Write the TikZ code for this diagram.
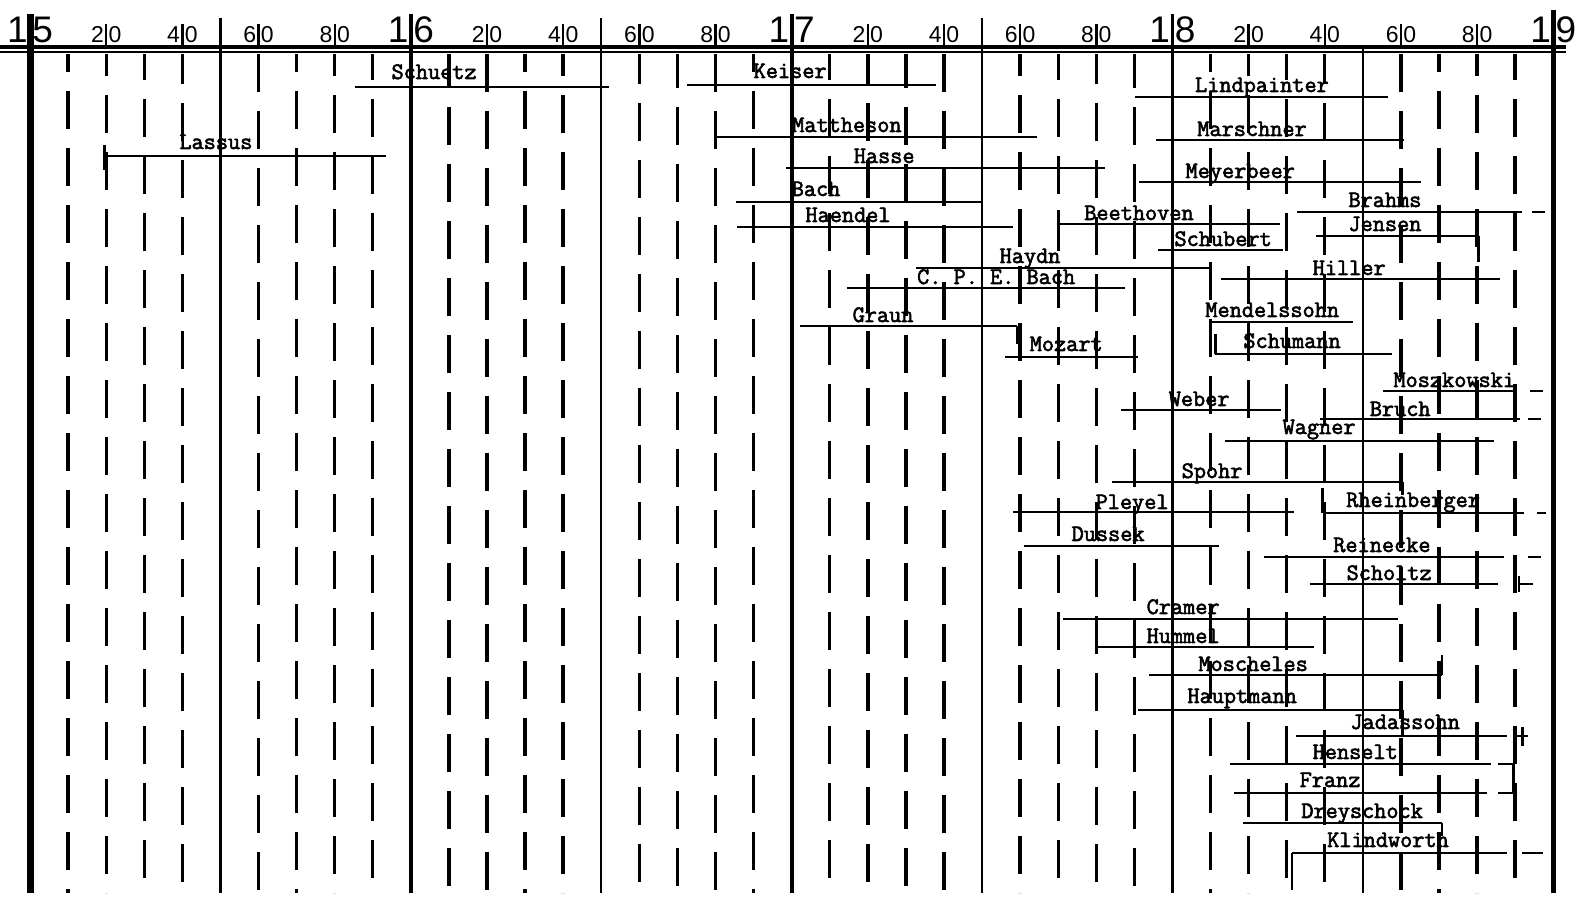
\documentclass[tikz,border=0pt]{standalone}
\usepackage{fontspec}
\newfontfamily\typefont{Latin Modern Mono}[FakeBold=2.5]
\newfontfamily\scalefont{Liberation Sans}
\usetikzlibrary{calc}

\begin{document}
\begin{tikzpicture}[x=1.904pt, y=-0.5pt,
    century/.style={line width=1.9pt},
    halfline/.style={line width=1.2pt},
    decade/.style={line width=1.7pt, dash pattern=on 19pt off 9.5pt},
    life/.style={line width=1.4pt},
    composer/.style={font=\typefont\fontsize{11.8}{12}\selectfont, anchor=base, inner sep=0pt},
    bignum/.style={font=\scalefont\fontsize{18.5}{18}\selectfont, inner sep=1pt},
    smallnum/.style={font=\scalefont\fontsize{11.5}{11}\selectfont, inner sep=1pt}]
    \useasboundingbox (1492.12,0) rectangle (1907.83,904);

    % dashed ten-year lines
    \foreach \yr in {1510,1520,...,1890}{
        \pgfmathtruncatemacro\r{mod(\yr,50)}
        \pgfmathsetmacro\ph{mod(\yr*7,12)}
        \ifnum\r>0 \draw[decade, dash phase=\ph pt] (\yr,54) -- (\yr,893); \fi
    }
    \foreach \yr in {1550,1650,1750}
        \draw[halfline] (\yr,18) -- (\yr,893);
    \draw[halfline] (1850,48) -- (1850,893);
    \draw[line width=3.5pt] (1500,14) -- (1500,893);
    \foreach \yr in {1600,1700,1800}
        \draw[century] (\yr,14) -- (\yr,893);
    \draw[line width=2.4pt] (1900,10) -- (1900,893);

    % scale at the top
    \draw[line width=2.4pt] (1492.12,47) -- (1903.4,47);
    \draw[line width=0.8pt] (1492.12,52) -- (1903.4,52);
    \foreach \c in {5,6,7,8,9}{
        \node[bignum, anchor=base east] (c1\c) at (1\c00,43) {1};
        \node[bignum, anchor=base west] (c2\c) at (1\c00,43) {\c};
    }
    \foreach \c in {5,6,7,8}
        \foreach \d in {2,4,6,8}{
            \draw[line width=1.2pt] (1\c\d0,24) -- (1\c\d0,47);
            \node[smallnum, anchor=base east] (d1\c\d) at (1\c\d0,43) {\d};
            \node[smallnum, anchor=base west] (d2\c\d) at (1\c\d0,43) {0};
        }

    % life lines
    \foreach \id/\who/\b/\d/\ly/\tx/\ty in {
        lassus/Lassus/1519.5/1593.5/156/1548.8/149,
        schuetz/Schuetz/1585.4/1652/87/1606.1/79,
        keiser/Keiser/1672.4/1737.9/85/1699.6/78,
        mattheson/Mattheson/1680.4/1764.3/137/1714.5/132,
        hasse/Hasse/1698.5/1782.4/168/1724.3/163,
        bach/Bach/1685.3/1750/202/1706.4/196,
        haendel/Haendel/1685.7/1758.2/227/1714.8/222,
        graun/Graun/1702.3/1759.2/326/1724/322,
        cpebach/{C. P. E. Bach}/1714.5/1787.5/288/1753.7/284,
        haydn/Haydn/1732.7/1810.4/268/1762.6/263,
        mozart/Mozart/1756.1/1791/357/1772.1/351,
        beethoven/Beethoven/1770/1828.3/224/1791.2/220,
        lindpainter/Lindpainter/1790.2/1856.6/97/1823.5/92,
        marschner/Marschner/1795.7/1860.7/140/1820.9/136,
        meyerbeer/Meyerbeer/1791.1/1865.3/182/1817.8/178,
        brahms/Brahms/1832.7/1891.8/212/1855.8/207,
        jensen/Jensen/1837.7/1880.3/236/1855.8/231,
        schubert/Schubert/1796.2/1829/250/1813.3/246,
        hiller/Hiller/1812.8/1886/279/1846.4/275,
        mendelssohn/Mendelssohn/1809.9/1847.4/322/1826.2/317,
        schumann/Schumann/1811.2/1857.7/354/1831.4/348,
        moszkowski/Moszkowski/1855.3/1890.5/391/1874/387,
        weber/Weber/1786.5/1828.5/410/1807/406,
        bruch/Bruch/1838.8/1891.3/419/1859.8/416,
        wagner/Wagner/1813.8/1884.5/441/1838.5/434,
        spohr/Spohr/1784.1/1860.5/482/1810.4/478,
        pleyel/Pleyel/1758.1/1832/512/1789.4/509,
        rheinberger/Rheinberger/1839.5/1892.3/513/1863.2/507,
        dussek/Dussek/1761/1812.2/546/1783.1/541,
        reinecke/Reinecke/1824/1887/557/1855/552,
        scholtz/Scholtz/1836/1885.5/584/1856.9/580,
        cramer/Cramer/1771.3/1859.2/619/1802.8/614,
        hummel/Hummel/1779.7/1837.2/647/1802.8/643,
        moscheles/Moscheles/1793.9/1870.8/675/1821.2/671,
        hauptmann/Hauptmann/1791/1860.5/710/1818.3/703,
        jadassohn/Jadassohn/1832.5/1887.9/736/1861.1/729,
        henselt/Henselt/1815.1/1883.7/764/1848/759,
        franz/Franz/1816.2/1882.6/793/1841.4/787,
        dreyschock/Dreyschock/1818.5/1870.8/823/1849.8/818,
        klindworth/Klindworth/1831.4/1887.9/853/1856.6/847}{
        \draw[life] (\b,\ly) -- (\d,\ly);
        \node[composer] (\id) at (\tx,\ty) {\who};
    }

    % marks beyond the lines near 1900
    \foreach \a/\c/\ly in {1894.4/1897.8/212, 1893.9/1897.4/391, 1893.4/1896.8/419,
        1895.7/1898/513, 1893.4/1896.8/557, 1891/1894.7/584, 1890.5/1893.4/736,
        1891.8/1897.3/853}
        \draw[life] (\a,\ly) -- (\c,\ly);
    \draw[life] (1891,576) -- (1891,592);
    \draw[life] (1892,727) -- (1892,746);
    \draw[life] (1885.6,764) -- (1889.5,764) -- (1889.5,793) -- (1885.6,793);

    % end ticks
    \foreach \h/\ya/\yb in {1759.2/326/344, 1880.3/236/262, 1860.5/482/495,
        1860.5/710/737, 1870.8/823/836, 1870.8/675/655, 1811.2/354/334,
        1839.5/513/488, 1770/224/210, 1831.4/853/890, 1519.5/145/170}
        \draw[life] (\h,\ya) -- (\h,\yb);
\end{tikzpicture}
\end{document}
